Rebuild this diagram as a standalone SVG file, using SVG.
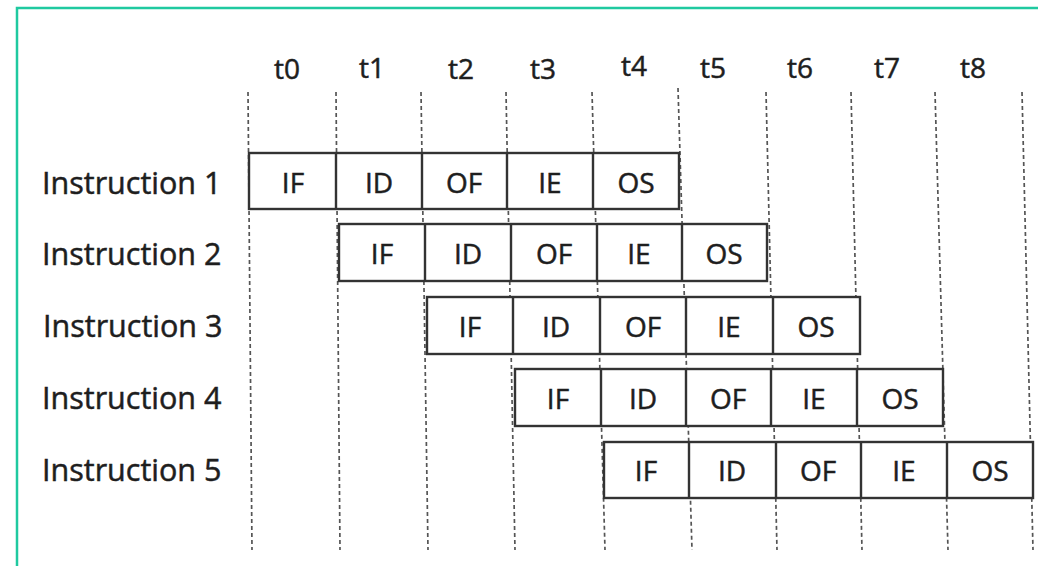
<svg xmlns="http://www.w3.org/2000/svg" width="1038" height="566" viewBox="0 0 1038 566">
<style>
.frame{fill:none;stroke:#1fc9a0;stroke-width:2.5}
.grid line{stroke:#555;stroke-width:1.7;stroke-dasharray:4 3}
.cell{fill:#fff;stroke:#333;stroke-width:2.4}
.txt{font-family:"Open Sans","Liberation Sans",sans-serif;font-size:28px;fill:#1e1e1e;stroke:#1e1e1e;stroke-width:0.5}
.lbl{font-family:"Open Sans","Liberation Sans",sans-serif;font-size:30.5px;fill:#1e1e1e;stroke:#1e1e1e;stroke-width:0.5}
.c{text-anchor:middle}
</style>
<rect width="1038" height="566" fill="#fff"/>
<rect class="frame" x="17" y="8" width="1100" height="620"/>
<g id="connectors" class="grid">
<line x1="248" y1="92" x2="252" y2="550"/>
<line x1="336" y1="92" x2="340" y2="550"/>
<line x1="421" y1="92" x2="428" y2="550"/>
<line x1="506" y1="92" x2="515" y2="550"/>
<line x1="592" y1="92" x2="605" y2="550"/>
<line x1="678" y1="88" x2="692" y2="550"/>
<line x1="766" y1="92" x2="777" y2="550"/>
<line x1="851" y1="92" x2="862" y2="550"/>
<line x1="935" y1="92" x2="948" y2="550"/>
<line x1="1022" y1="92" x2="1033" y2="550"/>
</g>
<g id="header" class="txt c">
<text x="287" y="79">t0</text>
<text x="372" y="78">t1</text>
<text x="461" y="79">t2</text>
<text x="543" y="79">t3</text>
<text x="634" y="76">t4</text>
<text x="713" y="78">t5</text>
<text x="800" y="78">t6</text>
<text x="887" y="78">t7</text>
<text x="973" y="78">t8</text>
</g>
<g id="instruction1">
<text class="lbl" x="42" y="194">Instruction 1</text>
<rect class="cell" x="249" y="153" width="430" height="56"/>
<path class="cell" d="M336 153V209M422 153V209M507 153V209M593 153V209"/>
<g class="txt c"><text x="293" y="193">IF</text><text x="379" y="193">ID</text><text x="464" y="193">OF</text><text x="550" y="193">IE</text><text x="636" y="193">OS</text></g>
</g>
<g id="instruction2">
<text class="lbl" x="42" y="265">Instruction 2</text>
<rect class="cell" x="339" y="224" width="428" height="57"/>
<path class="cell" d="M425 224V281M511 224V281M597 224V281M682 224V281"/>
<g class="txt c"><text x="382" y="264">IF</text><text x="468" y="264">ID</text><text x="554" y="264">OF</text><text x="639" y="264">IE</text><text x="724" y="264">OS</text></g>
</g>
<g id="instruction3">
<text class="lbl" x="43" y="337">Instruction 3</text>
<rect class="cell" x="427" y="297" width="433" height="57"/>
<path class="cell" d="M513 297V354M600 297V354M686 297V354M773 297V354"/>
<g class="txt c"><text x="470" y="337">IF</text><text x="556" y="337">ID</text><text x="643" y="337">OF</text><text x="729" y="337">IE</text><text x="816" y="337">OS</text></g>
</g>
<g id="instruction4">
<text class="lbl" x="42" y="409">Instruction 4</text>
<rect class="cell" x="515" y="369" width="428" height="57"/>
<path class="cell" d="M601 369V426M686 369V426M771 369V426M857 369V426"/>
<g class="txt c"><text x="558" y="409">IF</text><text x="643" y="409">ID</text><text x="728" y="409">OF</text><text x="814" y="409">IE</text><text x="900" y="409">OS</text></g>
</g>
<g id="instruction5">
<text class="lbl" x="42" y="481">Instruction 5</text>
<rect class="cell" x="604" y="442" width="429" height="56"/>
<path class="cell" d="M689 442V498M776 442V498M861 442V498M947 442V498"/>
<g class="txt c"><text x="646" y="481">IF</text><text x="732" y="481">ID</text><text x="818" y="481">OF</text><text x="904" y="481">IE</text><text x="990" y="481">OS</text></g>
</g>
</svg>
